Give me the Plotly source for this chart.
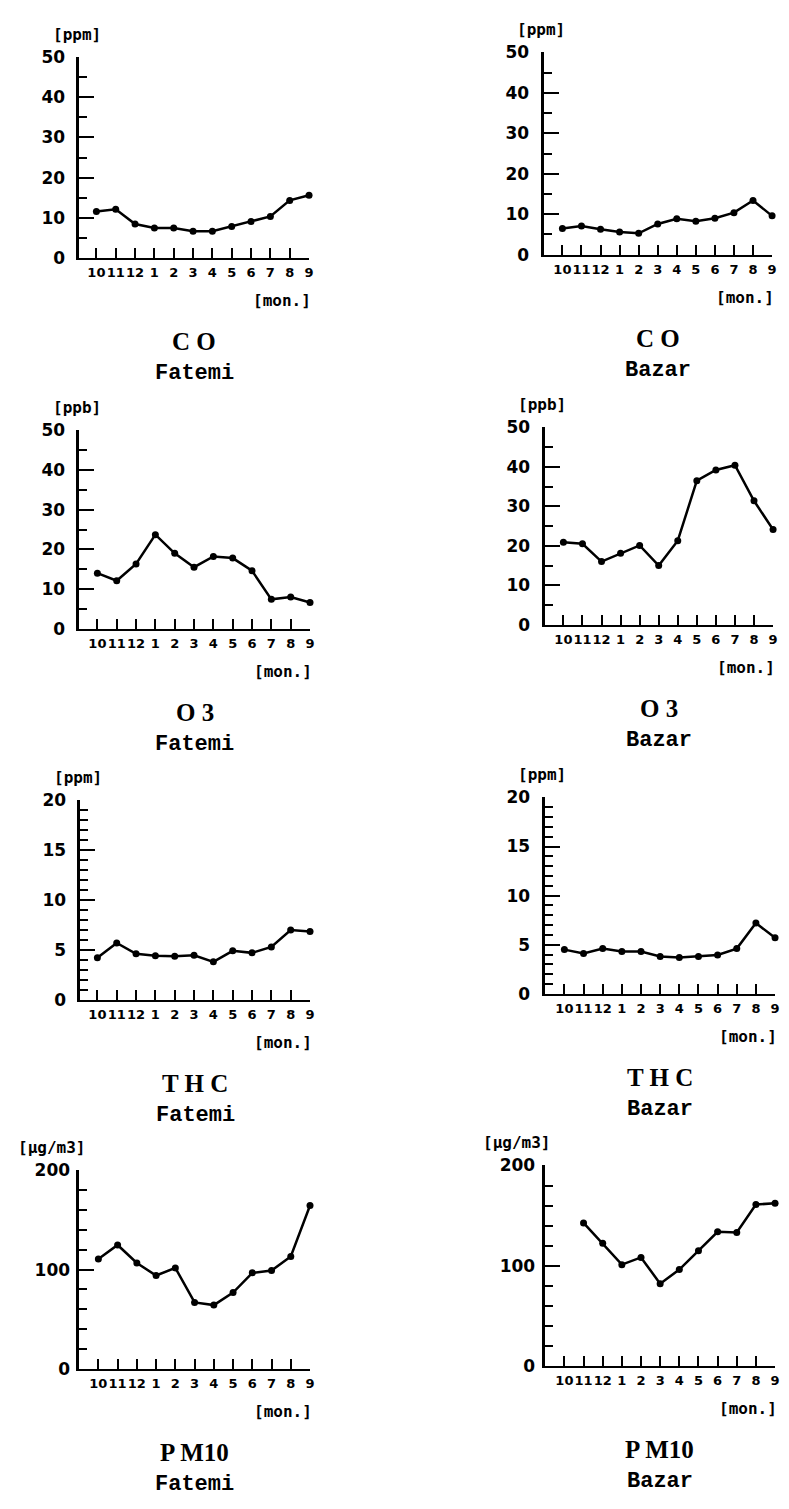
import plotly.graph_objects as go

# ---- data ----
months = ["10", "11", "12", "1", "2", "3", "4", "5", "6", "7", "8", "9"]

co_fatemi = [11.5, 12.1, 8.4, 7.4, 7.4, 6.6, 6.6, 7.8, 9.0, 10.3, 14.3, 15.6]
co_bazar = [6.5, 7.1, 6.3, 5.6, 5.3, 7.6, 8.9, 8.3, 9.0, 10.4, 13.4, 9.6]
o3_fatemi = [14.0, 12.1, 16.3, 23.7, 19.0, 15.5, 18.2, 17.8, 14.6, 7.4, 8.0, 6.6]
o3_bazar = [20.9, 20.5, 16.0, 18.1, 20.1, 15.0, 21.3, 36.5, 39.2, 40.4, 31.4, 24.1]
thc_fatemi = [4.2, 5.7, 4.6, 4.4, 4.35, 4.45, 3.8, 4.9, 4.7, 5.3, 7.0, 6.85]
thc_bazar = [4.5, 4.1, 4.6, 4.3, 4.3, 3.8, 3.7, 3.8, 3.95, 4.6, 7.2, 5.7]
pm10_fatemi = [110.6, 124.8, 106.6, 94.0, 101.7, 66.9, 64.2, 76.8, 96.7, 99.0, 113.2, 164.6]
pm10_bazar = [None, 142.6, 122.3, 101.0, 108.2, 82.0, 96.1, 114.8, 133.8, 133.1, 161.0, 162.3]

pollutants = ["C O", "O 3", "T H C", "P M10"]
sites = ["Fatemi", "Bazar"]
units = ["[ppm]", "[ppb]", "[ppm]", "[μg/m3]"]
y_max = [50, 50, 20, 200]
y_major = [10, 10, 5, 100]
y_minor = [5, 5, 1, 20]

series = [co_fatemi, co_bazar, o3_fatemi, o3_bazar,
          thc_fatemi, thc_bazar, pm10_fatemi, pm10_bazar]

# ---- layout geometry (pixels): x0, x1, first-month x, y bottom, y top ----
W, H = 789, 1509
geom = [
    (80, 311, 97, 251, 48),
    (547, 777, 566, 248, 43),
    (80, 312, 98, 627, 426),
    (548, 778, 567, 623, 423),
    (81, 312, 98, 1003, 801),
    (548, 780, 568, 997, 798),
    (80, 312, 99, 1377, 1176),
    (548, 780, 568, 1374, 1171),
]

fig = go.Figure()
annotations = []
layout = {}
xs = list(range(len(months)))

for i, vals in enumerate(series):
    row, col = divmod(i, 2)
    x0, x1, first, ybot, ytop = geom[i]
    step = (x1 - first) / (len(months) - 1)
    xr = [-(first - x0) / step, len(months) - 1]
    k = "" if i == 0 else str(i + 1)
    xa, ya = "x" + k, "y" + k

    fig.add_trace(go.Scatter(
        x=xs, y=vals, xaxis=xa, yaxis=ya, mode="lines+markers",
        line=dict(color="black", width=2.5),
        marker=dict(color="black", size=7),
        cliponaxis=False, showlegend=False, connectgaps=False,
    ))

    layout["xaxis" + k] = dict(
        domain=[x0 / W, x1 / W], range=xr, anchor=ya,
        showgrid=False, zeroline=False, showline=True,
        linecolor="black", linewidth=2,
        tickmode="array", tickvals=xs, ticktext=months,
        ticks="inside", ticklen=10, tickwidth=2, tickcolor="black",
        tickfont=dict(family="DejaVu Sans", size=13, color="black", weight="bold"),
        tickangle=0, ticklabelstandoff=2, fixedrange=True,
    )
    layout["yaxis" + k] = dict(
        domain=[1 - ybot / H, 1 - ytop / H], range=[0, y_max[row]], anchor=xa,
        showgrid=False, zeroline=False, showline=True,
        linecolor="black", linewidth=3,
        tickmode="linear", tick0=0, dtick=y_major[row],
        ticks="inside", ticklen=15, tickwidth=2, tickcolor="black",
        minor=dict(ticks="inside", ticklen=8, tickwidth=2, tickcolor="black",
                   dtick=y_minor[row], tick0=0, showgrid=False),
        tickfont=dict(family="DejaVu Sans", size=17, color="black", weight="bold"),
        ticklabelstandoff=8 if row < 3 else 3, fixedrange=True,
    )

    # unit label
    ux = x0 - (28 if row == 3 else 3)
    annotations.append(dict(
        x=ux / W, y=1 - (ytop - 23) / H, xref="paper", yref="paper",
        text=units[row], showarrow=False, xanchor="center", yanchor="middle",
        font=dict(family="DejaVu Sans Mono", size=16, color="black", weight="bold"),
    ))
    # month unit
    annotations.append(dict(
        x=(x1 + 4) / W, y=1 - (ybot + 43) / H, xref="paper", yref="paper",
        text="[mon.]", showarrow=False, xanchor="right", yanchor="middle",
        font=dict(family="DejaVu Sans Mono", size=16, color="black", weight="bold"),
    ))
    cx = (x0 + x1) / 2
    annotations.append(dict(
        x=cx / W, y=1 - (ybot + 85) / H, xref="paper", yref="paper",
        text=pollutants[row], showarrow=False, xanchor="center", yanchor="middle",
        font=dict(family="Liberation Serif", size=25, color="black", weight="bold"),
    ))
    annotations.append(dict(
        x=cx / W, y=1 - (ybot + 117) / H, xref="paper", yref="paper",
        text=sites[col], showarrow=False, xanchor="center", yanchor="middle",
        font=dict(family="Liberation Mono", size=22, color="black", weight="bold"),
    ))

fig.update_layout(
    width=W, height=H, margin=dict(l=0, r=0, t=0, b=0),
    paper_bgcolor="white", plot_bgcolor="white",
    annotations=annotations, **layout,
)

fig.write_html("out.html")
